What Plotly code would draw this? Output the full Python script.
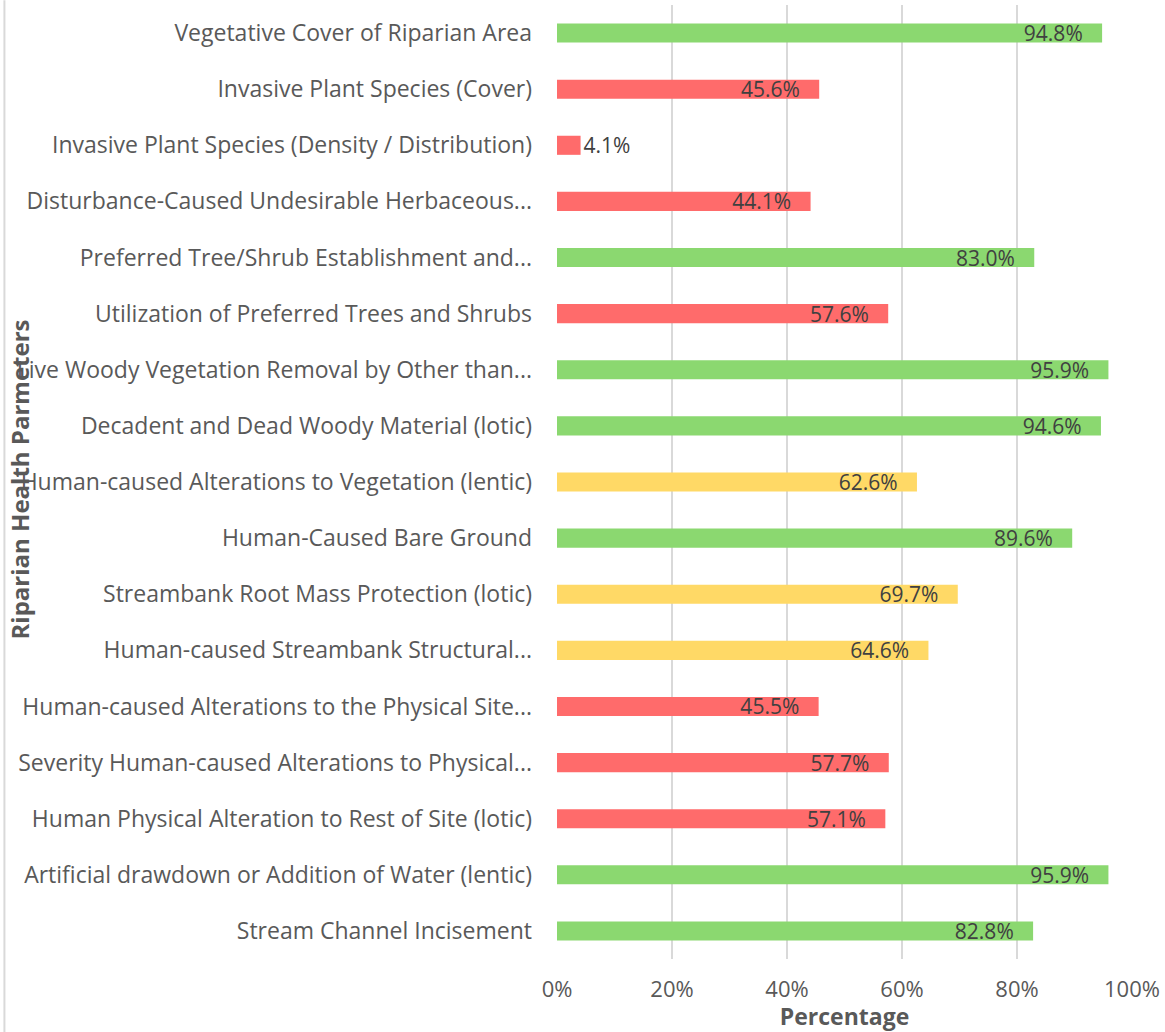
import plotly.graph_objects as go

categories = [
    "Vegetative Cover of Riparian Area",
    "Invasive Plant Species (Cover)",
    "Invasive Plant Species (Density / Distribution)",
    "Disturbance-Caused Undesirable Herbaceous...",
    "Preferred Tree/Shrub Establishment and...",
    "Utilization of Preferred Trees and Shrubs",
    "Live Woody Vegetation Removal by Other than...",
    "Decadent and Dead Woody Material (lotic)",
    "Human-caused Alterations to Vegetation (lentic)",
    "Human-Caused Bare Ground",
    "Streambank Root Mass Protection (lotic)",
    "Human-caused Streambank Structural...",
    "Human-caused Alterations to the Physical Site...",
    "Severity Human-caused Alterations to Physical...",
    "Human Physical Alteration to Rest of Site (lotic)",
    "Artificial drawdown or Addition of Water (lentic)",
    "Stream Channel Incisement",
]
values = [94.8, 45.6, 4.1, 44.1, 83.0, 57.6, 95.9, 94.6, 62.6, 89.6, 69.7, 64.6, 45.5, 57.7, 57.1, 95.9, 82.8]
ratings = ["good", "poor", "poor", "poor", "good", "poor", "good", "good", "fair", "good",
           "fair", "fair", "poor", "poor", "poor", "good", "good"]

palette = {"good": "#8BD870", "poor": "#FF6B6B", "fair": "#FFD966"}
colors = [palette[r] for r in ratings]
texts = [f"{v:.1f}%" + "\u00a0\u00a0\u00a0" if v > 10 else f"{v:.1f}%" for v in values]
positions = ["inside" if v > 10 else "outside" for v in values]

fig = go.Figure(go.Bar(
    x=values,
    y=categories,
    orientation="h",
    marker=dict(color=colors, line=dict(width=0)),
    text=texts,
    textposition=positions,
    insidetextanchor="end",
    textfont=dict(family="Open Sans", size=21, color="#404040"),
    constraintext="none",
    cliponaxis=False,
    hoverinfo="skip",
))

fig.update_layout(
    width=1165,
    height=1032,
    margin=dict(l=557, r=30, t=5, b=73),
    paper_bgcolor="white",
    plot_bgcolor="white",
    bargap=0.66,
    showlegend=False,
    font=dict(family="Open Sans", color="#595959"),
)
fig.update_xaxes(
    range=[0, 100],
    tickvals=[0, 20, 40, 60, 80, 100],
    ticktext=["0%", "20%", "40%", "60%", "80%", "100%"],
    showgrid=True,
    gridcolor="#D9D9D9",
    gridwidth=2,
    zeroline=False,
    showline=False,
    ticks="",
    tickfont=dict(size=22, color="#595959"),
    ticklabelstandoff=15,
    title=dict(text="<b>Percentage</b>", font=dict(size=23, color="#595959"), standoff=5),
)
fig.update_yaxes(
    autorange="reversed",
    showgrid=False,
    ticks="",
    showline=False,
    tickfont=dict(size=23, color="#595959"),
    ticklabelstandoff=24,
)
fig.add_annotation(
    text="<b>Riparian Health Parmeters</b>",
    xref="paper", yref="paper",
    x=-0.935, y=0.503,
    xanchor="center", yanchor="middle",
    textangle=-90,
    showarrow=False,
    font=dict(size=24, color="#595959"),
)
fig.add_shape(type="line", xref="paper", yref="paper",
              x0=-0.961, x1=-0.961, y0=-0.0765, y1=1.005,
              line=dict(color="#D9D9D9", width=2))

fig.write_html("out.html", config={"displayModeBar": False},
               post_script="document.body.style.margin='0';")
